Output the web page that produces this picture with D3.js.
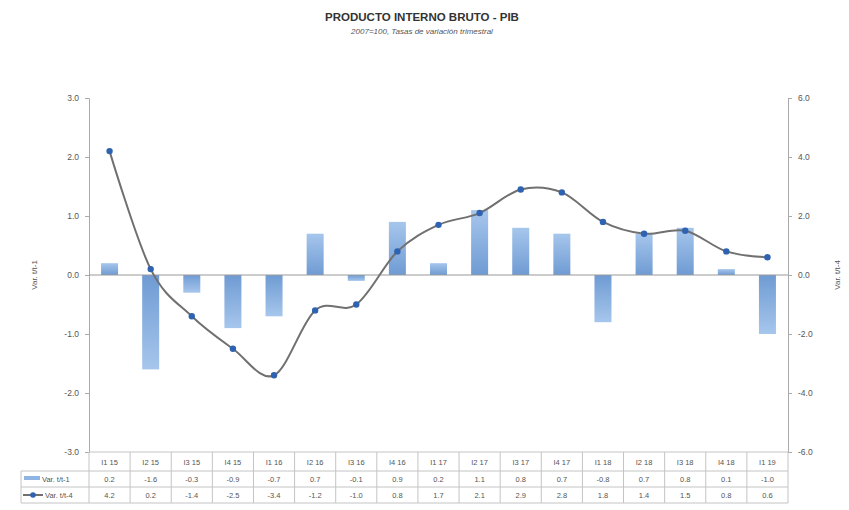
<!DOCTYPE html>
<html><head><meta charset="utf-8">
<script src="https://cdn.jsdelivr.net/npm/d3@7"></script>
<style>body{margin:0;background:#fff}svg{display:block;font-family:"Liberation Sans",Arial,sans-serif}</style>
</head><body><svg id="c" width="849" height="510"></svg>
<script>
const categories = ["I1 15","I2 15","I3 15","I4 15","I1 16","I2 16","I3 16","I4 16","I1 17","I2 17","I3 17","I4 17","I1 18","I2 18","I3 18","I4 18","I1 19"];
const varT1 = [0.2,-1.6,-0.3,-0.9,-0.7,0.7,-0.1,0.9,0.2,1.1,0.8,0.7,-0.8,0.7,0.8,0.1,-1.0];
const varT4 = [4.2,0.2,-1.4,-2.5,-3.4,-1.2,-1.0,0.8,1.7,2.1,2.9,2.8,1.8,1.4,1.5,0.8,0.6];
const leftTicks = [3,2,1,0,-1,-2,-3];
const rightTicks = [6,4,2,0,-2,-4,-6];
const seriesNames = ["Var. t/t-1","Var. t/t-4"];

const svg = d3.select("#c");
const L = 89, R = 788, T = 98, B = 452;
const x = d3.scaleBand().domain(categories).range([L, R]);
const yL = d3.scaleLinear().domain([-3, 3]).range([B, T]);
const yR = d3.scaleLinear().domain([-6, 6]).range([B, T]);
const fmt = d => d.toFixed(1);

const defs = svg.append("defs");
const g = defs.append("linearGradient").attr("id","bg").attr("x1",0).attr("x2",0).attr("y1",0).attr("y2",1);
g.append("stop").attr("offset","0%").attr("stop-color","#a6c6ec");
g.append("stop").attr("offset","100%").attr("stop-color","#6f9bd3");
const g2 = defs.append("linearGradient").attr("id","bg2").attr("x1",0).attr("x2",0).attr("y1",1).attr("y2",0);
g2.append("stop").attr("offset","0%").attr("stop-color","#a6c6ec");
g2.append("stop").attr("offset","100%").attr("stop-color","#6f9bd3");

// title
svg.append("text").attr("x",422).attr("y",21).attr("text-anchor","middle").attr("font-size",11.5).attr("font-weight","bold").attr("fill","#333").text("PRODUCTO INTERNO BRUTO - PIB");
svg.append("text").attr("x",422).attr("y",34).attr("text-anchor","middle").attr("font-size",8).attr("font-style","italic").attr("fill","#555").text("2007=100, Tasas de variación trimestral");

// axes
const axL = d3.axisLeft(yL).tickValues(leftTicks).tickSize(4).tickFormat(fmt);
const gl = svg.append("g").attr("transform",`translate(${L},0)`).call(axL);
const axR = d3.axisRight(yR).tickValues(rightTicks).tickSize(4).tickFormat(fmt);
const gr = svg.append("g").attr("transform",`translate(${R},0)`).call(axR);
[gl,gr].forEach(a=>{
  a.select(".domain").attr("stroke","#aaa");
  a.selectAll(".tick line").attr("stroke","#aaa");
  a.selectAll(".tick text").attr("fill","#555").attr("font-size",8.5).attr("font-family","Liberation Sans, Arial, sans-serif");
});
gl.selectAll(".tick text").attr("x",-10);
gr.selectAll(".tick text").attr("x",10);

svg.append("text").attr("transform",`translate(37,${yL(0)}) rotate(-90)`).attr("text-anchor","middle").attr("font-size",8).attr("fill","#555").text(seriesNames[0]);
svg.append("text").attr("transform",`translate(840,${yL(0)}) rotate(-90)`).attr("text-anchor","middle").attr("font-size",8).attr("fill","#555").text(seriesNames[1]);

// bars
const bw = 17;
svg.append("g").selectAll("rect").data(varT1).join("rect")
  .attr("x",(d,i)=>x(categories[i])+x.bandwidth()/2-bw/2)
  .attr("width",bw)
  .attr("y",d=>yL(Math.max(0,d)))
  .attr("height",d=>Math.abs(yL(d)-yL(0)))
  .attr("fill",d=>d>=0?"url(#bg)":"url(#bg2)");

// zero line
svg.append("line").attr("x1",L).attr("x2",R).attr("y1",yL(0)).attr("y2",yL(0)).attr("stroke","#999").attr("stroke-width",1);

// line
const line = d3.line().x((d,i)=>x(categories[i])+x.bandwidth()/2).y(d=>yR(d)).curve(d3.curveCardinal);
svg.append("path").datum(varT4).attr("d",line).attr("fill","none").attr("stroke","#707070").attr("stroke-width",2);
svg.append("g").selectAll("circle").data(varT4).join("circle")
  .attr("cx",(d,i)=>x(categories[i])+x.bandwidth()/2).attr("cy",d=>yR(d)).attr("r",3.2).attr("fill","#2f62b0");

// data table
const rowY = [B, 471, 487, 503];
const tcol = "#c4c4c4";
const tg = svg.append("g");
tg.append("line").attr("x1",L).attr("x2",R).attr("y1",rowY[0]).attr("y2",rowY[0]).attr("stroke",tcol);
tg.append("line").attr("x1",21).attr("x2",R).attr("y1",rowY[1]).attr("y2",rowY[1]).attr("stroke",tcol);
tg.append("line").attr("x1",21).attr("x2",R).attr("y1",rowY[2]).attr("y2",rowY[2]).attr("stroke",tcol);
tg.append("line").attr("x1",21).attr("x2",R).attr("y1",rowY[3]).attr("y2",rowY[3]).attr("stroke",tcol);
tg.append("line").attr("x1",21).attr("x2",21).attr("y1",rowY[1]).attr("y2",rowY[3]).attr("stroke",tcol);
categories.forEach((c,i)=>{
  tg.append("line").attr("x1",x(c)).attr("x2",x(c)).attr("y1",rowY[0]).attr("y2",rowY[3]).attr("stroke",tcol);
});
tg.append("line").attr("x1",R).attr("x2",R).attr("y1",rowY[0]).attr("y2",rowY[3]).attr("stroke",tcol);
tg.selectAll("text.cat").data(categories).join("text").attr("class","cat")
  .attr("x",d=>x(d)+x.bandwidth()/2).attr("y",465).attr("text-anchor","middle").attr("font-size",7.5).attr("fill","#555").text(d=>d);
tg.selectAll("text.v1").data(varT1).join("text").attr("class","v1")
  .attr("x",(d,i)=>x(categories[i])+x.bandwidth()/2).attr("y",482).attr("text-anchor","middle").attr("font-size",7.5).attr("fill","#555").text(d=>fmt(d));
tg.selectAll("text.v4").data(varT4).join("text").attr("class","v4")
  .attr("x",(d,i)=>x(categories[i])+x.bandwidth()/2).attr("y",498).attr("text-anchor","middle").attr("font-size",7.5).attr("fill","#555").text(d=>fmt(d));
// legend keys
tg.append("rect").attr("x",24).attr("y",476).attr("width",16).attr("height",4).attr("fill","#8fb5e4");
tg.append("line").attr("x1",23).attr("x2",43).attr("y1",495).attr("y2",495).attr("stroke","#707070").attr("stroke-width",2);
tg.append("circle").attr("cx",33).attr("cy",495).attr("r",2.8).attr("fill","#2f62b0");
tg.append("text").attr("x",42).attr("y",482).attr("font-size",7.5).attr("fill","#555").text(seriesNames[0]);
tg.append("text").attr("x",45).attr("y",498).attr("font-size",7.5).attr("fill","#555").text(seriesNames[1]);
</script></body></html>
